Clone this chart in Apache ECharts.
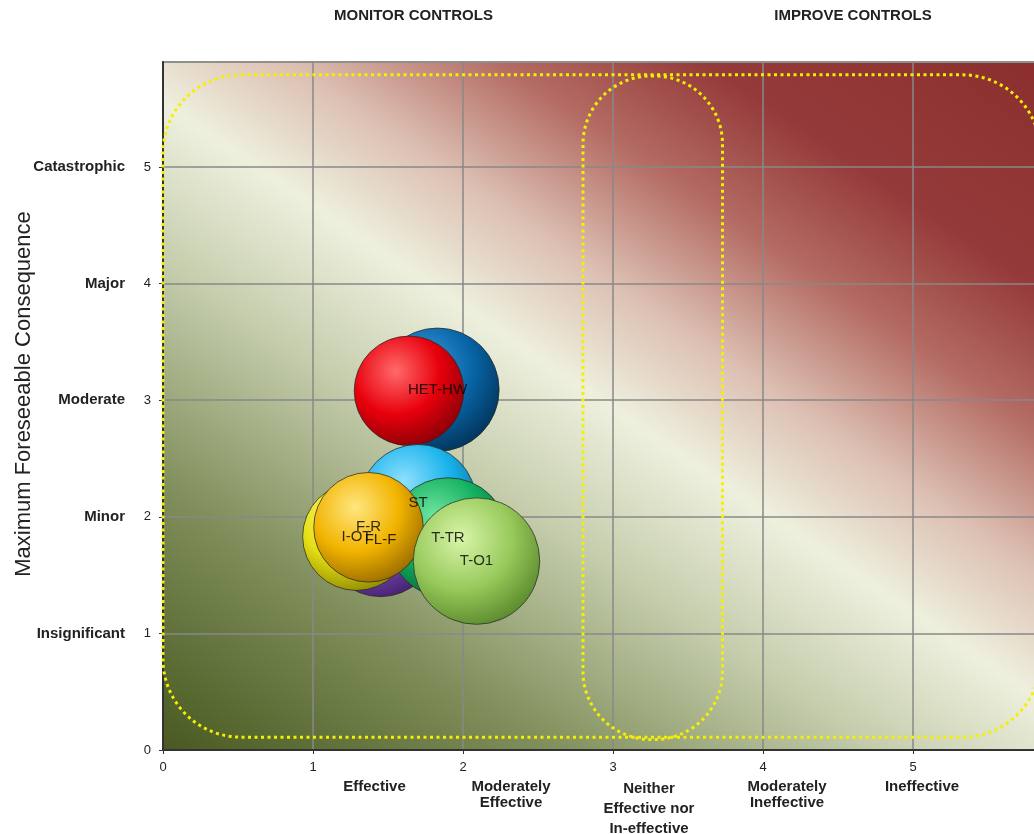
<!DOCTYPE html>
<html>
<head>
<meta charset="utf-8">
<style>
  html, body { margin: 0; padding: 0; background: #fff; }
  #main { width: 1034px; height: 834px; }
</style>
<script src="https://cdn.jsdelivr.net/npm/echarts@6/dist/echarts.min.js"></script>
</head>
<body>
<div id="main"></div>
<script>
// bubbles, in drawing order (back to front)
var bubbleNames = ['HET-HW', '', 'ST', 'FL-F', 'I-OT', 'T-TR', 'F-R', 'T-O1'];
var controlScore = [1.83, 1.64, 1.70, 1.45, 1.29, 1.90, 1.37, 2.09];
var consequence = [3.09, 3.08, 2.12, 1.80, 1.83, 1.82, 1.91, 1.62];
var bubbleSize = [38, 30, 34, 32, 29, 36, 30, 40];

// axis text
var consequenceNames = ['', 'Insignificant', 'Minor', 'Moderate', 'Major', 'Catastrophic'];
var ratingNames = ['Effective', 'Moderately\nEffective', 'Neither\nEffective nor\nIn-effective', 'Moderately\nIneffective', 'Ineffective'];
var ratingPos = [1.41, 2.32, 3.24, 4.16, 5.06];
var zoneTitles = ['MONITOR CONTROLS', 'IMPROVE CONTROLS'];
var zoneTitlePos = [1.67, 4.6];

// dotted zones [x0, y0, x1, y1] in data units
var zoneBig = [0.0, 0.11, 5.85, 5.79];
var zoneMid = [2.8, 0.09, 3.73, 5.78];

// light, base, dark
var palette = [
  ['#3f9ee0', '#0866a8', '#02345a'],
  ['#ff6a6a', '#e8000c', '#8a0006'],
  ['#8fe0ff', '#1ab4ec', '#0a6f99'],
  ['#b08ae0', '#7a4ab4', '#452270'],
  ['#ffff8a', '#e6de14', '#8f8a00'],
  ['#6ee6a0', '#12ae5e', '#07693a'],
  ['#ffe680', '#f2b400', '#9a6c00'],
  ['#d8f5a8', '#98ca5c', '#5a8a2c']
];

function ball(c) {
  return {
    type: 'radial', x: 0.38, y: 0.32, r: 0.72,
    colorStops: [
      { offset: 0, color: c[0] },
      { offset: 0.55, color: c[1] },
      { offset: 1, color: c[2] }
    ]
  };
}

var bubbles = controlScore.map(function (x, i) {
  return {
    name: bubbleNames[i],
    value: [x, consequence[i], bubbleSize[i]],
    itemStyle: { color: ball(palette[i]) }
  };
});

var chart = echarts.init(document.getElementById('main'));

chart.setOption({
  animation: false,
  grid: {
    left: 163, top: 62, width: 900, height: 688,
    outerBoundsMode: 'none',
    containLabel: false,
    show: true,
    borderColor: '#a4a4a4',
    borderWidth: 2,
    backgroundColor: {
      type: 'linear', x: 0.17, y: 1.14, x2: 0.83, y2: -0.13,
      colorStops: [
        { offset: 0, color: '#4a5a22' },
        { offset: 0.2, color: '#7f8e5a' },
        { offset: 0.38, color: '#c6ceae' },
        { offset: 0.5, color: '#eef0de' },
        { offset: 0.6, color: '#dcbfb2' },
        { offset: 0.71, color: '#b46c64' },
        { offset: 0.82, color: '#953a3a' },
        { offset: 1, color: '#8c2e2e' }
      ]
    }
  },
  xAxis: {
    type: 'value', min: 0, max: 6, interval: 1,
    axisLine: { show: true, lineStyle: { color: '#333', width: 2 } },
    axisTick: { show: true, length: 4, lineStyle: { color: '#333' } },
    axisLabel: {
      margin: 11, showMaxLabel: false,
      color: '#222', fontSize: 13, fontFamily: 'Liberation Sans'
    },
    splitLine: { show: true, lineStyle: { color: '#888', width: 1.5 } }
  },
  yAxis: {
    type: 'value', min: 0, max: 5.9, interval: 1,
    name: 'Maximum Foreseeable Consequence',
    nameLocation: 'middle',
    nameGap: 128,
    nameMoveOverlap: false,
    nameTextStyle: { fontSize: 22, color: '#222', fontFamily: 'Liberation Sans', padding: [0, 0, 0, 24] },
    axisLine: { show: true, lineStyle: { color: '#333', width: 2 } },
    axisTick: { show: true, length: 4, lineStyle: { color: '#333' } },
    axisLabel: {
      margin: 12, showMaxLabel: false,
      formatter: function (v) {
        return '{n|' + (consequenceNames[v] || '') + '}{v|' + v + '}';
      },
      rich: {
        n: { fontFamily: 'Liberation Sans', fontWeight: 'bold', fontSize: 15, color: '#222' },
        v: { fontFamily: 'Liberation Sans', fontSize: 13, color: '#222', width: 26, align: 'right' }
      }
    },
    splitLine: { show: true, lineStyle: { color: '#888', width: 1.5 } }
  },
  series: [
    {
      type: 'scatter',
      data: bubbles,
      symbolSize: function (v) { return Math.sqrt(v[2]) * 20; },
      itemStyle: { opacity: 1, borderColor: 'rgba(40,40,40,0.75)', borderWidth: 1 },
      label: { show: false }
    },
    {
      type: 'scatter',
      z: 10,
      data: bubbles.map(function (b) { return { name: b.name, value: b.value }; }),
      symbolSize: 0,
      label: {
        show: true, position: 'inside',
        formatter: '{b}',
        color: '#000', fontSize: 15, fontFamily: 'Liberation Sans'
      }
    }
  ]
});

function zoneRect(z) {
  var p0 = chart.convertToPixel({ gridIndex: 0 }, [z[0], z[3]]);
  var p1 = chart.convertToPixel({ gridIndex: 0 }, [z[2], z[1]]);
  return { x: p0[0], y: p0[1], width: p1[0] - p0[0], height: p1[1] - p0[1] };
}

var graphics = [];
[[zoneBig, 78], [zoneMid, 68]].forEach(function (zr) {
  var r = zoneRect(zr[0]);
  graphics.push({
    type: 'rect', z: 5,
    shape: { x: r.x, y: r.y, width: r.width, height: r.height, r: zr[1] },
    style: { fill: null, stroke: '#f4f000', lineWidth: 3, lineDash: [3, 3.5] }
  });
});

zoneTitles.forEach(function (t, i) {
  var p = chart.convertToPixel({ gridIndex: 0 }, [zoneTitlePos[i], 0]);
  graphics.push({
    type: 'text', x: p[0], y: 16,
    style: {
      text: t, align: 'center', verticalAlign: 'middle',
      fontFamily: 'Liberation Sans', fontWeight: 'bold', fontSize: 15, fill: '#222'
    }
  });
});

ratingNames.forEach(function (t, i) {
  var p = chart.convertToPixel({ gridIndex: 0 }, [ratingPos[i], 0]);
  var lines = t.split('\n').length;
  graphics.push({
    type: 'text', x: p[0], y: 779,
    style: {
      text: t, align: 'center', verticalAlign: 'top',
      lineHeight: lines > 2 ? 20 : 16,
      fontFamily: 'Liberation Sans', fontWeight: 'bold', fontSize: 15, fill: '#222'
    }
  });
});

chart.setOption({ graphic: graphics });
</script>
</body>
</html>
